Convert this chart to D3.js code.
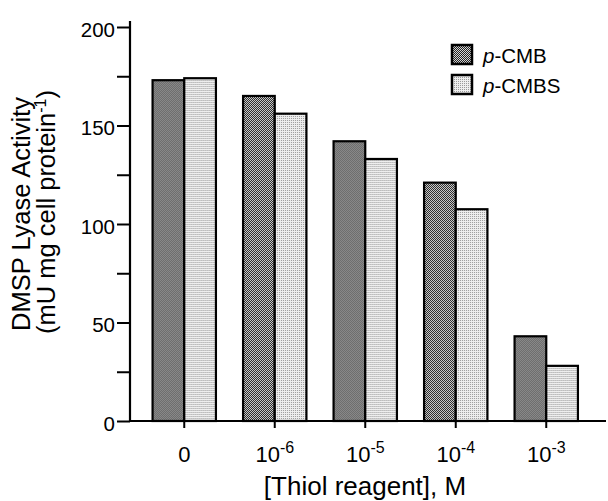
<!DOCTYPE html>
<html>
<head>
<meta charset="utf-8">
<script src="https://cdn.jsdelivr.net/npm/d3@7"></script>
<style>
  body { margin: 0; background: #fff; }
  svg { display: block; font-family: "Liberation Sans", Arial, Helvetica, sans-serif; }
</style>
</head>
<body>
<div id="chart"></div>
<script>
// categories on the x axis, as [base, exponent]; exponent null means plain text
var concentrations = [["0", null], ["10", "-6"], ["10", "-5"], ["10", "-4"], ["10", "-3"]];
var seriesNames = ["p-CMB", "p-CMBS"];
// DMSP lyase activity, mU mg cell protein-1
var pcmbValues = [173, 165, 142, 121, 43];
var pcmbsValues = [174, 156, 133, 107.5, 28];
var yTickValues = [0, 25, 50, 75, 100, 125, 150, 175, 200];
var yLabelValues = [0, 50, 100, 150, 200];

(function() {
  'use strict';

  var width = 608, height = 501;

  var svg = d3.select("#chart").append("svg")
      .attr("width", width)
      .attr("height", height);

  // stipple fills like the scanned figure
  var defs = svg.append("defs");
  var dark = defs.append("pattern").attr("id", "darkDots")
      .attr("patternUnits", "userSpaceOnUse").attr("width", 2).attr("height", 2);
  dark.append("rect").attr("width", 2).attr("height", 2).attr("fill", "#d4d4d4");
  dark.append("rect").attr("width", 1).attr("height", 1).attr("fill", "#222");
  dark.append("rect").attr("x", 1).attr("y", 1).attr("width", 1).attr("height", 1).attr("fill", "#222");
  var light = defs.append("pattern").attr("id", "lightDots")
      .attr("patternUnits", "userSpaceOnUse").attr("width", 2).attr("height", 2);
  light.append("rect").attr("width", 2).attr("height", 2).attr("fill", "#eeeeee");
  light.append("rect").attr("width", 1).attr("height", 1).attr("fill", "#9a9a9a");

  var fills = ["url(#darkDots)", "url(#lightDots)"];

  var cats = concentrations.map(function(c) { return c[0] + (c[1] || ""); });

  var x0 = d3.scaleBand().domain(cats).range([139, 591.5])
      .paddingInner(0.3).paddingOuter(0.15);
  var x1 = d3.scaleBand().domain(seriesNames).range([0, x0.bandwidth()]);
  var y = d3.scaleLinear().domain([0, 200]).range([421, 27]);

  var axisX = 130;

  // bars
  var rows = cats.map(function(c, i) {
    return { cat: c, vals: [pcmbValues[i], pcmbsValues[i]] };
  });
  var groups = svg.selectAll("g.group")
      .data(rows)
      .enter().append("g")
        .attr("class", "group")
        .attr("transform", function(d) { return "translate(" + x0(d.cat) + ",0)"; });
  groups.selectAll("rect")
      .data(function(d) { return d.vals.map(function(v, j) { return { name: seriesNames[j], v: v, j: j }; }); })
      .enter().append("rect")
        .attr("x", function(d) { return x1(d.name); })
        .attr("y", function(d) { return y(d.v); })
        .attr("width", x1.bandwidth())
        .attr("height", function(d) { return y(0) - y(d.v); })
        .attr("fill", function(d) { return fills[d.j]; })
        .attr("stroke", "#000")
        .attr("stroke-width", 2.2);

  // y axis, minor ticks get no label
  var gy = svg.append("g")
      .attr("transform", "translate(" + axisX + ",0)")
      .call(d3.axisLeft(y)
        .tickValues(yTickValues)
        .tickSize(13)
        .tickPadding(2)
        .tickFormat(function(d) { return yLabelValues.indexOf(d) >= 0 ? d : ""; }));
  gy.select(".domain").remove();
  gy.selectAll(".tick line").attr("stroke", "#000").attr("stroke-width", 2);
  gy.selectAll(".tick text").attr("font-size", 20.5).attr("fill", "#000").attr("dy", "0.45em");

  // x axis, labels rebuilt with superscripts
  var gx = svg.append("g")
      .attr("transform", "translate(0," + y(0) + ")")
      .call(d3.axisBottom(x0).tickSize(7).tickPadding(0).tickSizeOuter(0));
  gx.select(".domain").remove();
  gx.selectAll(".tick line").attr("stroke", "#000").attr("stroke-width", 2);
  gx.selectAll(".tick text").each(function(d, i) {
    var t = d3.select(this);
    var c = concentrations[i];
    t.text(null)
      .attr("y", 41)
      .attr("dy", null)
      .attr("font-size", 22)
      .attr("fill", "#000");
    t.append("tspan").text(c[0]);
    if (c[1]) {
      t.append("tspan").attr("dy", -9).attr("font-size", 16).text(c[1]);
    }
  });

  // axis lines
  svg.append("line")
      .attr("x1", axisX).attr("x2", axisX)
      .attr("y1", y(0) + 1).attr("y2", y(200) - 6)
      .attr("stroke", "#000").attr("stroke-width", 2.2);
  svg.append("line")
      .attr("x1", axisX - 1).attr("x2", 606)
      .attr("y1", y(0)).attr("y2", y(0))
      .attr("stroke", "#000").attr("stroke-width", 2.2);

  // axis titles
  svg.append("text")
      .attr("x", 365).attr("y", 495)
      .attr("text-anchor", "middle")
      .attr("font-size", 26)
      .text("[Thiol reagent], M");

  svg.append("text")
      .attr("transform", "rotate(-90)")
      .attr("text-anchor", "middle")
      .attr("font-size", 25.5)
      .attr("x", -214).attr("y", 30)
      .text("DMSP Lyase Activity");

  var line2 = svg.append("text")
      .attr("transform", "rotate(-90)")
      .attr("text-anchor", "middle")
      .attr("font-size", 25.5)
      .attr("x", -212).attr("y", 55);
  line2.append("tspan").text("(mU mg cell protein");
  line2.append("tspan").attr("dy", -9).attr("font-size", 16).text("-1");
  line2.append("tspan").attr("dy", 9).text(")");

  // legend
  var legend = svg.selectAll("g.legend")
      .data(seriesNames)
      .enter().append("g")
        .attr("class", "legend")
        .attr("transform", function(d, i) { return "translate(452," + (45 + i * 30) + ")"; });
  legend.append("rect")
      .attr("width", 20).attr("height", 19)
      .attr("fill", function(d, i) { return fills[i]; })
      .attr("stroke", "#000").attr("stroke-width", 2.5);
  var lt = legend.append("text")
      .attr("x", 31).attr("y", 18)
      .attr("font-size", 20.5);
  lt.append("tspan").attr("font-style", "italic").text("p");
  lt.append("tspan").text(function(d) { return d.slice(1); });
})();
</script>
</body>
</html>
